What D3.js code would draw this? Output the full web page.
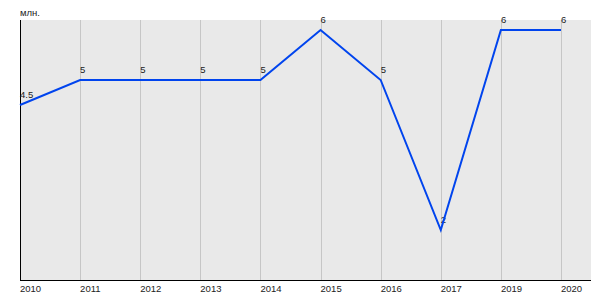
<!DOCTYPE html>
<html>
<head>
<meta charset="utf-8">
<script src="https://cdn.jsdelivr.net/npm/d3@7"></script>
<style>
  body { margin: 0; background: #fff; }
  text { font-family: Arial, "Liberation Sans", sans-serif; font-size: 9.5px; fill: #222; }
</style>
</head>
<body>
<svg width="600" height="300"></svg>
<script>
var years = ['2010', '2011', '2012', '2013', '2014', '2015', '2016', '2017', '2019', '2020'];
var values = [4.5, 5, 5, 5, 5, 6, 5, 2, 6, 6];
var valueLabels = ['4.5', '5', '5', '5', '5', '6', '5', '2', '6', '6'];
var unitLabel = 'млн.';

var data = years.map((y, i) => ({year: y, value: values[i], label: valueLabels[i]}));

var svg = d3.select('svg');
var plotLeft = 20, plotTop = 20, plotRight = 591, plotBottom = 280;

var x = d3.scalePoint()
  .domain(years)
  .range([plotLeft, 561]);

var y = d3.scaleLinear()
  .domain([1, 6.2])
  .range([plotBottom, plotTop]);

// plot background
svg.append('rect')
  .attr('x', plotLeft)
  .attr('y', plotTop)
  .attr('width', plotRight - plotLeft)
  .attr('height', plotBottom - plotTop)
  .attr('fill', '#e9e9e9');

// vertical grid lines
svg.append('g')
  .selectAll('line')
  .data(years.slice(1))
  .enter()
  .append('line')
  .attr('x1', d => Math.round(x(d)) + 0.5)
  .attr('x2', d => Math.round(x(d)) + 0.5)
  .attr('y1', plotTop)
  .attr('y2', plotBottom)
  .attr('stroke', '#c6c6c6')
  .attr('stroke-width', 1);

// axes
svg.append('line')
  .attr('x1', plotLeft + 0.5).attr('x2', plotLeft + 0.5)
  .attr('y1', plotTop).attr('y2', plotBottom + 0.5)
  .attr('stroke', '#000');
svg.append('line')
  .attr('x1', plotLeft).attr('x2', plotRight)
  .attr('y1', plotBottom + 0.5).attr('y2', plotBottom + 0.5)
  .attr('stroke', '#000');

// x tick labels
svg.append('g')
  .selectAll('text')
  .data(years)
  .enter()
  .append('text')
  .attr('x', d => x(d))
  .attr('y', 292)
  .text(d => d);

// unit label
svg.append('text')
  .attr('x', plotLeft)
  .attr('y', 15.5)
  .text(unitLabel);

// value labels
svg.append('g')
  .selectAll('text')
  .data(data)
  .enter()
  .append('text')
  .attr('x', d => x(d.year))
  .attr('y', d => y(d.value) - 7)
  .text(d => d.label);

// line
var line = d3.line()
  .x(d => x(d.year))
  .y(d => y(d.value));

svg.append('path')
  .datum(data)
  .attr('d', line)
  .attr('fill', 'none')
  .attr('stroke', '#0044ee')
  .attr('stroke-width', 2);
</script>
</body>
</html>
